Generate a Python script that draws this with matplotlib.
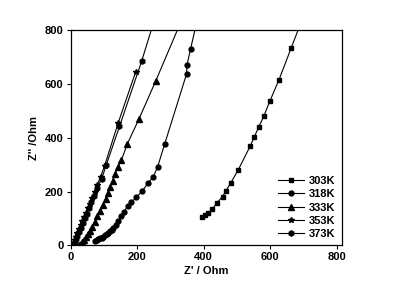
import matplotlib as mpl
mpl.use("Agg")
import matplotlib.pyplot as plt

plt.rcParams['font.family'] = ['Liberation Sans', 'DejaVu Sans']
plt.rcParams['font.weight'] = 'bold'

# Nyquist data (Z' and Z'' in Ohm)
x_303 = [394, 404, 414, 426, 441, 457, 467, 482, 504, 541, 552, 566, 581, 600, 627, 663, 700]
y_303 = [104, 113, 121, 134, 159, 181, 202, 233, 280, 371, 402, 440, 480, 538, 616, 732, 851]

x_318 = [73, 78, 83, 88, 93, 98, 103, 108, 113, 118, 123, 128, 136, 143, 152, 161, 172, 183,
         198, 216, 232, 248, 262, 283, 349, 350, 361, 385]
y_318 = [17, 19, 22, 26, 29, 33, 37, 41, 46, 52, 57, 63, 77, 90, 108, 125, 148, 160,
         179, 202, 231, 253, 293, 377, 638, 670, 731, 860]

x_333 = [25, 30, 35, 40, 46, 52, 58, 65, 72, 80, 88, 96, 105, 112, 119, 126, 133, 142, 153,
         171, 206, 256, 330]
y_333 = [0, 5, 12, 20, 30, 42, 55, 70, 88, 108, 128, 150, 172, 195, 218, 240, 264, 290, 318,
         378, 471, 611, 826]

x_353 = [5, 8, 12, 16, 20, 25, 30, 35, 40, 46, 52, 58, 65, 72, 80, 90, 102, 143, 196]
y_353 = [2, 10, 20, 32, 45, 60, 75, 90, 105, 120, 138, 155, 175, 200, 225, 255, 295, 455, 646]

x_373 = [8, 12, 16, 20, 25, 30, 36, 42, 48, 55, 62, 70, 78, 93, 107, 147, 214, 250]
y_373 = [0, 10, 22, 35, 50, 65, 82, 100, 118, 138, 160, 185, 212, 245, 298, 442, 686, 830]

series = [
    (x_303, y_303, 's', 3.3, '303K'),
    (x_318, y_318, 'o', 3.5, '318K'),
    (x_333, y_333, '^', 3.8, '333K'),
    (x_353, y_353, '*', 4.2, '353K'),
    (x_373, y_373, 'h', 3.8, '373K'),
]

fig = plt.figure(figsize=(3.99, 2.87), dpi=100)
ax = fig.add_axes([0.177, 0.145, 0.679, 0.75])

for x, y, m, ms, lab in series:
    ax.plot(x, y, color='black', linewidth=0.8, marker=m, markersize=ms,
            markerfacecolor='black', markeredgecolor='black', label=lab)

ax.set_xlim(0, 815)
ax.set_ylim(0, 800)
ax.set_xticks([0, 200, 400, 600, 800])
ax.set_yticks([0, 200, 400, 600, 800])
ax.tick_params(direction='out', length=3, width=0.8, labelsize=8, pad=2)
for s in ax.spines.values():
    s.set_linewidth(0.9)

ax.set_xlabel("Z' / Ohm", fontsize=8, fontweight='bold', labelpad=3)
ax.set_ylabel("Z'' /Ohm", fontsize=8, fontweight='bold', labelpad=4)

ax.legend(loc='lower right', frameon=False, fontsize=8, handlelength=2.4,
          labelspacing=0.3, handletextpad=0.4, borderaxespad=0.15)

fig.savefig('out.png', dpi=100)
